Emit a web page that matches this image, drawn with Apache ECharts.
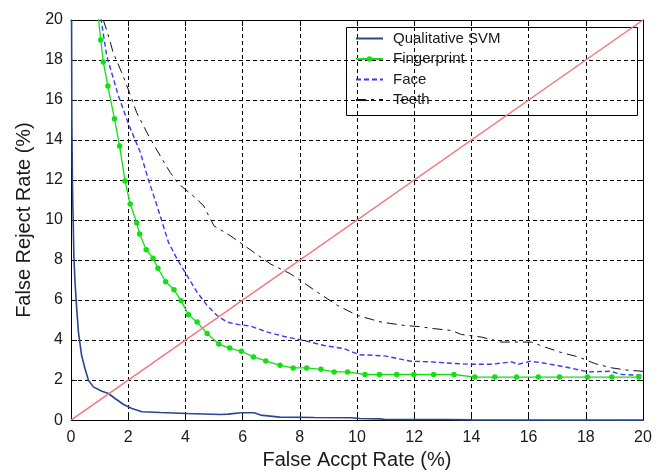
<!DOCTYPE html>
<html>
<head>
<meta charset="utf-8">
<script src="https://cdn.jsdelivr.net/npm/echarts@6/dist/echarts.min.js"></script>
<style>
  html, body { margin: 0; padding: 0; background: #fff; }
  #chart { width: 664px; height: 475px; }
</style>
</head>
<body>
<div id="chart"></div>
<script>
// Axis ticks (percent)
const xTicks = [0, 2, 4, 6, 8, 10, 12, 14, 16, 18, 20];
const yTicks = [0, 2, 4, 6, 8, 10, 12, 14, 16, 18, 20];

// ROC-style error curves: [false accept rate, false reject rate] in %
const svmCurve = [
  [0.02, 20], [0.03, 15], [0.05, 12], [0.06, 11.0], [0.08, 9.71], [0.1, 8.2],
  [0.14, 6.9], [0.2, 5.56], [0.26, 4.40], [0.37, 3.24], [0.49, 2.57], [0.61, 1.99],
  [0.78, 1.66], [1.08, 1.44], [1.31, 1.33], [1.54, 1.08], [1.84, 0.78], [2.13, 0.58],
  [2.48, 0.42], [3.12, 0.38], [4.06, 0.33], [5.23, 0.28], [5.5, 0.30], [5.93, 0.37],
  [6.40, 0.37], [6.63, 0.25], [7.3, 0.15], [8.5, 0.13], [9.8, 0.12], [10.1, 0.08],
  [10.8, 0.06], [11.0, 0.03], [13.2, 0.03], [14.0, 0.01], [20, 0]
];

const fingerprintCurve = [
  [0.92, 20.6], [1.04, 19.0], [1.13, 17.9], [1.29, 16.7], [1.52, 15.06], [1.70, 13.7],
  [1.89, 11.95], [2.07, 10.8], [2.30, 9.85], [2.40, 9.3], [2.63, 8.52], [2.87, 8.09],
  [3.04, 7.59], [3.31, 6.92], [3.60, 6.52], [3.85, 5.96], [4.11, 5.26], [4.41, 4.90],
  [4.76, 4.33], [5.17, 3.80], [5.55, 3.60], [5.96, 3.44], [6.38, 3.16], [6.81, 2.96],
  [7.31, 2.74], [7.77, 2.61], [8.24, 2.61], [8.74, 2.54], [9.20, 2.41], [9.67, 2.41],
  [10.28, 2.28], [10.78, 2.28], [11.39, 2.28], [11.99, 2.28], [12.68, 2.28], [13.39, 2.28],
  [14.12, 2.15], [14.82, 2.15], [15.58, 2.15], [16.34, 2.15], [17.08, 2.15], [18.06, 2.15],
  [18.91, 2.15], [19.85, 2.15]
];

const faceCurve = [
  [1.0, 20.5], [1.25, 18.2], [1.66, 16.2], [2.01, 14.8], [2.42, 13.4], [2.71, 12.0],
  [3.0, 10.75], [3.41, 8.88], [3.71, 8.05], [4.06, 7.22], [4.41, 6.39], [4.76, 5.73],
  [5.11, 5.23], [5.46, 4.90], [5.87, 4.77], [6.28, 4.70], [6.87, 4.40], [7.45, 4.18],
  [8.15, 3.98], [8.85, 3.73], [9.55, 3.57], [10.08, 3.27], [10.96, 3.21], [11.89, 2.94],
  [12.60, 2.91], [13.3, 2.84], [14.0, 2.79], [14.7, 2.79], [15.4, 2.91], [15.64, 2.79],
  [16.05, 2.94], [16.46, 2.87], [17.27, 2.66], [18.09, 2.41], [18.85, 2.44], [19.26, 2.28],
  [20, 2.24]
];

const teethCurve = [
  [1.13, 20], [1.31, 19.2], [1.48, 18.35], [1.78, 17.35], [2.01, 16.5], [2.30, 15.36],
  [2.66, 14.36], [3.0, 13.5], [3.47, 12.37], [3.77, 11.8], [4.41, 11.04], [4.64, 10.7],
  [5.0, 9.71], [5.58, 9.21], [6.28, 8.5], [6.98, 7.80], [7.68, 7.31], [8.62, 6.39],
  [9.32, 5.73], [10.02, 5.23], [10.84, 4.90], [11.66, 4.73], [12.13, 4.68], [12.71, 4.57],
  [13.30, 4.48], [13.65, 4.28], [14.35, 4.15], [15.05, 3.90], [16.1, 3.90], [16.57, 3.65],
  [17.16, 3.37], [17.74, 3.16], [18.33, 2.82], [18.91, 2.61], [19.5, 2.49], [20, 2.44]
];

// Equal error rate reference line FAR = FRR
const eerLine = [[0, 0], [20, 20]];

const seriesNames = ['Qualitative SVM', 'Fingerprint', 'Face', 'Teeth'];
const seriesWithMarkers = ['Fingerprint'];

const font = '"Liberation Sans", Arial, sans-serif';
const ink = '#1a1a1a';

const chart = echarts.init(document.getElementById('chart'), null, { renderer: 'canvas' });

const tickInside = { show: true, inside: true, length: 6, lineStyle: { color: '#000', width: 1 } };
const gridDash = { show: true, lineStyle: { color: '#000', width: 1, type: [4, 3] } };

// Legend entries: plain line samples except where the series carries markers
const legendData = seriesNames.map(function (name) {
  return seriesWithMarkers.indexOf(name) >= 0
    ? { name: name }
    : { name: name, itemStyle: { opacity: 0 } };
});

chart.setOption({
  animation: false,
  backgroundColor: '#fff',
  grid: { left: 71, right: 21, top: 20, bottom: 53, containLabel: false },
  xAxis: [
    {
      type: 'value', min: xTicks[0], max: xTicks[xTicks.length - 1], interval: 2,
      name: 'False Accpt Rate (%)', nameLocation: 'middle', nameGap: 29,
      nameTextStyle: { fontFamily: font, fontSize: 20, color: ink },
      axisLine: { show: true, onZero: false, lineStyle: { color: '#000', width: 1 } },
      axisTick: tickInside,
      axisLabel: { fontFamily: font, fontSize: 16, color: ink, margin: 9 },
      splitLine: gridDash
    },
    {
      type: 'value', position: 'top', min: xTicks[0], max: xTicks[xTicks.length - 1], interval: 2,
      axisLine: { show: true, onZero: false, lineStyle: { color: '#000', width: 1 } },
      axisTick: tickInside, axisLabel: { show: false }, splitLine: { show: false }
    }
  ],
  yAxis: [
    {
      type: 'value', min: yTicks[0], max: yTicks[yTicks.length - 1], interval: 2,
      name: 'False Reject Rate (%)', nameLocation: 'middle', nameGap: 35,
      nameTextStyle: { fontFamily: font, fontSize: 20, color: ink },
      axisLine: { show: true, onZero: false, lineStyle: { color: '#000', width: 1 } },
      axisTick: tickInside,
      axisLabel: { fontFamily: font, fontSize: 16, color: ink, margin: 8 },
      splitLine: gridDash
    },
    {
      type: 'value', position: 'right', min: yTicks[0], max: yTicks[yTicks.length - 1], interval: 2,
      axisLine: { show: true, onZero: false, lineStyle: { color: '#000', width: 1 } },
      axisTick: tickInside, axisLabel: { show: false }, splitLine: { show: false }
    }
  ],
  legend: {
    data: legendData,
    orient: 'vertical',
    left: 355, top: 31,
    itemWidth: 27, itemHeight: 7, itemGap: 5.5,
    padding: 0,
    textStyle: { fontFamily: font, fontSize: 15, color: ink, lineHeight: 15, padding: [0, 0, 0, 5] },
    selectedMode: false
  },
  graphic: [
    {
      type: 'rect', left: 346, top: 27, z: 0,
      shape: { width: 291, height: 88 },
      style: { fill: '#fff', stroke: '#000', lineWidth: 1 }
    }
  ],
  series: [
    {
      name: 'Qualitative SVM', type: 'line', data: svmCurve, symbol: 'none', clip: true,
      lineStyle: { color: '#2a468f', width: 1.6 }, itemStyle: { color: '#2a468f' }, z: 2
    },
    {
      name: 'Fingerprint', type: 'line', data: fingerprintCurve, symbol: 'circle', symbolSize: 5.5, clip: true,
      lineStyle: { color: '#12e012', width: 1.3 }, itemStyle: { color: '#12e012' }, z: 3
    },
    {
      name: 'Face', type: 'line', data: faceCurve, symbol: 'none', clip: true,
      lineStyle: { color: '#3a3af2', width: 1.4, type: [5, 3] }, itemStyle: { color: '#3a3af2' }, z: 3
    },
    {
      name: 'Teeth', type: 'line', data: teethCurve, symbol: 'none', clip: true,
      lineStyle: { color: '#111', width: 1, type: [10, 5, 3, 5] }, itemStyle: { color: '#111' }, z: 3
    },
    {
      name: 'FAR = FRR', type: 'line', data: eerLine, symbol: 'none', clip: true,
      lineStyle: { color: '#f27878', width: 1.5 }, z: 4
    }
  ]
});
</script>
</body>
</html>
